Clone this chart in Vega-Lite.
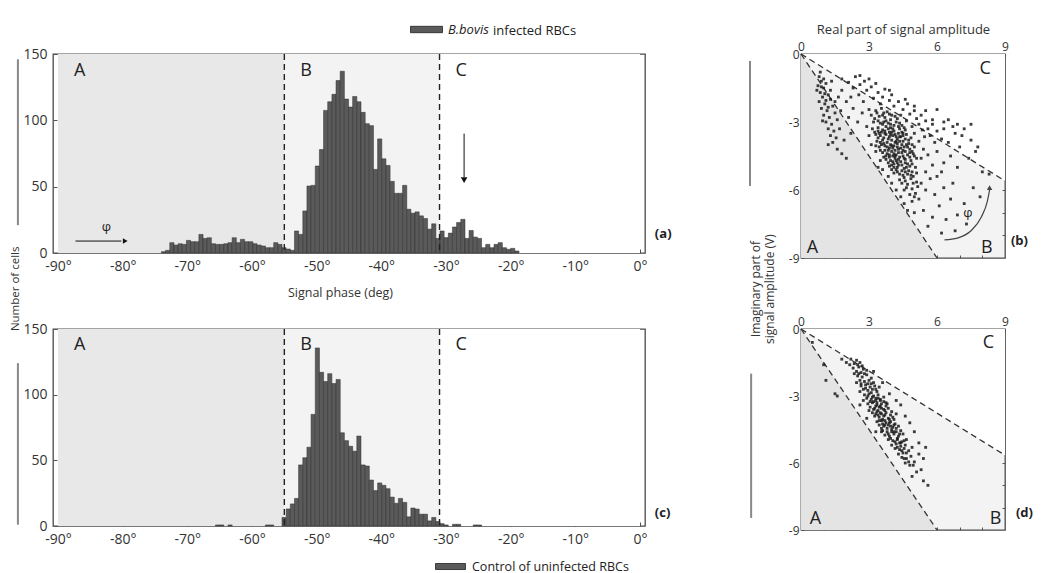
{
"$schema": "https://vega.github.io/schema/vega-lite/v6.json",
"background": "white",
"padding": {"left": 9, "top": 12, "right": 0, "bottom": 0},
"columns": 2,
"align": "each",
"bounds": "flush",
"spacing": {"row": 71, "column": 156},
"resolve": {"scale": {"color": "independent", "fill": "independent"}, "legend": {"color": "independent", "fill": "independent"}},
"config": {
  "font": "Open Sans",
  "view": {"stroke": "#4a4a4a", "strokeWidth": 1.3},
  "axis": {"domain": false, "grid": false, "labelColor": "#333", "labelFontSize": 13, "labelFlush": false, "labelOverlap": false, "tickColor": "#555", "tickSize": -4, "tickWidth": 1, "titleColor": "#333", "titleFontWeight": "normal", "titleFontSize": 13},
  "text": {"color": "#222", "font": "Open Sans"}
},
"datasets": {
  "regions": [{"region": "A", "start": -90, "end": -55}, {"region": "B", "start": -55, "end": -31}, {"region": "C", "start": -31, "end": 0}],
  "hist_a": [
    {"phase": -73.68, "count": 1, "s": "B.bovis"}, {"phase": -73.04, "count": 2, "s": "B.bovis"}, {"phase": -72.39, "count": 7.8, "s": "B.bovis"}, {"phase": -71.75, "count": 6, "s": "B.bovis"},
    {"phase": -71.11, "count": 7, "s": "B.bovis"}, {"phase": -70.47, "count": 6.5, "s": "B.bovis"}, {"phase": -69.82, "count": 9.5, "s": "B.bovis"}, {"phase": -69.18, "count": 8.5, "s": "B.bovis"},
    {"phase": -68.54, "count": 8.5, "s": "B.bovis"}, {"phase": -67.89, "count": 14, "s": "B.bovis"}, {"phase": -67.25, "count": 11, "s": "B.bovis"}, {"phase": -66.61, "count": 11.5, "s": "B.bovis"},
    {"phase": -65.97, "count": 7, "s": "B.bovis"}, {"phase": -65.32, "count": 6.5, "s": "B.bovis"}, {"phase": -64.68, "count": 6.5, "s": "B.bovis"}, {"phase": -64.04, "count": 7, "s": "B.bovis"},
    {"phase": -63.39, "count": 7.8, "s": "B.bovis"}, {"phase": -62.75, "count": 11.5, "s": "B.bovis"}, {"phase": -62.11, "count": 7.8, "s": "B.bovis"}, {"phase": -61.47, "count": 10.3, "s": "B.bovis"},
    {"phase": -60.82, "count": 8.5, "s": "B.bovis"}, {"phase": -60.18, "count": 8.5, "s": "B.bovis"}, {"phase": -59.54, "count": 7, "s": "B.bovis"}, {"phase": -58.89, "count": 6, "s": "B.bovis"},
    {"phase": -58.25, "count": 5.3, "s": "B.bovis"}, {"phase": -57.61, "count": 4, "s": "B.bovis"}, {"phase": -56.97, "count": 4, "s": "B.bovis"}, {"phase": -56.32, "count": 7.8, "s": "B.bovis"},
    {"phase": -55.68, "count": 6.5, "s": "B.bovis"}, {"phase": -55.04, "count": 4, "s": "B.bovis"}, {"phase": -54.39, "count": 3, "s": "B.bovis"}, {"phase": -53.75, "count": 2, "s": "B.bovis"},
    {"phase": -53.11, "count": 16.6, "s": "B.bovis"}, {"phase": -52.47, "count": 14, "s": "B.bovis"}, {"phase": -51.82, "count": 31.7, "s": "B.bovis"}, {"phase": -51.18, "count": 50.5, "s": "B.bovis"},
    {"phase": -50.54, "count": 51, "s": "B.bovis"}, {"phase": -49.89, "count": 65.6, "s": "B.bovis"}, {"phase": -49.25, "count": 78, "s": "B.bovis"}, {"phase": -48.61, "count": 107.5, "s": "B.bovis"},
    {"phase": -47.97, "count": 114, "s": "B.bovis"}, {"phase": -47.32, "count": 119.6, "s": "B.bovis"}, {"phase": -46.68, "count": 130, "s": "B.bovis"}, {"phase": -46.04, "count": 137, "s": "B.bovis"},
    {"phase": -45.39, "count": 116, "s": "B.bovis"}, {"phase": -44.75, "count": 110, "s": "B.bovis"}, {"phase": -44.11, "count": 118, "s": "B.bovis"}, {"phase": -43.47, "count": 114, "s": "B.bovis"},
    {"phase": -42.82, "count": 106, "s": "B.bovis"}, {"phase": -42.18, "count": 97.5, "s": "B.bovis"}, {"phase": -41.54, "count": 96, "s": "B.bovis"}, {"phase": -40.89, "count": 63, "s": "B.bovis"},
    {"phase": -40.25, "count": 86, "s": "B.bovis"}, {"phase": -39.61, "count": 71, "s": "B.bovis"}, {"phase": -38.97, "count": 66, "s": "B.bovis"}, {"phase": -38.32, "count": 54, "s": "B.bovis"},
    {"phase": -37.68, "count": 45, "s": "B.bovis"}, {"phase": -37.04, "count": 45, "s": "B.bovis"}, {"phase": -36.39, "count": 51, "s": "B.bovis"}, {"phase": -35.75, "count": 33, "s": "B.bovis"},
    {"phase": -35.11, "count": 30, "s": "B.bovis"}, {"phase": -34.47, "count": 31, "s": "B.bovis"}, {"phase": -33.82, "count": 28, "s": "B.bovis"}, {"phase": -33.18, "count": 26, "s": "B.bovis"},
    {"phase": -32.54, "count": 18, "s": "B.bovis"}, {"phase": -31.89, "count": 22, "s": "B.bovis"}, {"phase": -31.25, "count": 11, "s": "B.bovis"}, {"phase": -30.61, "count": 16.6, "s": "B.bovis"},
    {"phase": -29.97, "count": 11.6, "s": "B.bovis"}, {"phase": -29.32, "count": 15, "s": "B.bovis"}, {"phase": -28.68, "count": 19.6, "s": "B.bovis"}, {"phase": -28.04, "count": 23, "s": "B.bovis"},
    {"phase": -27.39, "count": 25.4, "s": "B.bovis"}, {"phase": -26.75, "count": 11, "s": "B.bovis"}, {"phase": -26.11, "count": 17, "s": "B.bovis"}, {"phase": -25.47, "count": 12, "s": "B.bovis"},
    {"phase": -24.82, "count": 11, "s": "B.bovis"}, {"phase": -24.18, "count": 4, "s": "B.bovis"}, {"phase": -23.54, "count": 6.5, "s": "B.bovis"}, {"phase": -22.89, "count": 4, "s": "B.bovis"},
    {"phase": -22.25, "count": 6.5, "s": "B.bovis"}, {"phase": -21.61, "count": 7.8, "s": "B.bovis"}, {"phase": -20.97, "count": 4, "s": "B.bovis"}, {"phase": -20.32, "count": 2.8, "s": "B.bovis"},
    {"phase": -19.68, "count": 3.5, "s": "B.bovis"}, {"phase": -19.04, "count": 1.5, "s": "B.bovis"}
  ],
  "hist_c": [
    {"phase": -65.32, "count": 0.8, "s": "Control of uninfected RBCs"}, {"phase": -64.68, "count": 0.8, "s": "Control of uninfected RBCs"}, {"phase": -63.39, "count": 0.8, "s": "Control of uninfected RBCs"},
    {"phase": -57.61, "count": 0.8, "s": "Control of uninfected RBCs"}, {"phase": -56.97, "count": 0.8, "s": "Control of uninfected RBCs"},
    {"phase": -55.04, "count": 6.5, "s": "Control of uninfected RBCs"}, {"phase": -54.39, "count": 13, "s": "Control of uninfected RBCs"}, {"phase": -53.75, "count": 16.8, "s": "Control of uninfected RBCs"},
    {"phase": -53.11, "count": 21, "s": "Control of uninfected RBCs"}, {"phase": -52.47, "count": 46.5, "s": "Control of uninfected RBCs"}, {"phase": -51.82, "count": 52, "s": "Control of uninfected RBCs"},
    {"phase": -51.18, "count": 60, "s": "Control of uninfected RBCs"}, {"phase": -50.54, "count": 85, "s": "Control of uninfected RBCs"}, {"phase": -49.89, "count": 135.6, "s": "Control of uninfected RBCs"},
    {"phase": -49.25, "count": 117, "s": "Control of uninfected RBCs"}, {"phase": -48.61, "count": 110, "s": "Control of uninfected RBCs"}, {"phase": -47.97, "count": 116, "s": "Control of uninfected RBCs"},
    {"phase": -47.32, "count": 108.5, "s": "Control of uninfected RBCs"}, {"phase": -46.68, "count": 111.6, "s": "Control of uninfected RBCs"}, {"phase": -46.04, "count": 71, "s": "Control of uninfected RBCs"},
    {"phase": -45.39, "count": 65, "s": "Control of uninfected RBCs"}, {"phase": -44.75, "count": 60.7, "s": "Control of uninfected RBCs"}, {"phase": -44.11, "count": 57, "s": "Control of uninfected RBCs"},
    {"phase": -43.47, "count": 68.5, "s": "Control of uninfected RBCs"}, {"phase": -42.82, "count": 46.5, "s": "Control of uninfected RBCs"}, {"phase": -42.18, "count": 45.7, "s": "Control of uninfected RBCs"},
    {"phase": -41.54, "count": 35, "s": "Control of uninfected RBCs"}, {"phase": -40.89, "count": 27, "s": "Control of uninfected RBCs"}, {"phase": -40.25, "count": 32.8, "s": "Control of uninfected RBCs"},
    {"phase": -39.61, "count": 31, "s": "Control of uninfected RBCs"}, {"phase": -38.97, "count": 28.4, "s": "Control of uninfected RBCs"}, {"phase": -38.32, "count": 22, "s": "Control of uninfected RBCs"},
    {"phase": -37.68, "count": 17.3, "s": "Control of uninfected RBCs"}, {"phase": -37.04, "count": 21, "s": "Control of uninfected RBCs"}, {"phase": -36.39, "count": 18, "s": "Control of uninfected RBCs"},
    {"phase": -35.75, "count": 7, "s": "Control of uninfected RBCs"}, {"phase": -35.11, "count": 13.7, "s": "Control of uninfected RBCs"}, {"phase": -34.47, "count": 12.9, "s": "Control of uninfected RBCs"},
    {"phase": -33.82, "count": 9, "s": "Control of uninfected RBCs"}, {"phase": -33.18, "count": 9, "s": "Control of uninfected RBCs"}, {"phase": -32.54, "count": 3.9, "s": "Control of uninfected RBCs"},
    {"phase": -31.89, "count": 6.5, "s": "Control of uninfected RBCs"}, {"phase": -31.25, "count": 3.4, "s": "Control of uninfected RBCs"}, {"phase": -30.61, "count": 1.8, "s": "Control of uninfected RBCs"},
    {"phase": -29.97, "count": 0.8, "s": "Control of uninfected RBCs"}, {"phase": -28.68, "count": 1.3, "s": "Control of uninfected RBCs"}, {"phase": -28.04, "count": 1.3, "s": "Control of uninfected RBCs"},
    {"phase": -25.47, "count": 0.8, "s": "Control of uninfected RBCs"}, {"phase": -24.82, "count": 0.8, "s": "Control of uninfected RBCs"}
  ],
  "pts_b": [
    {"x":3.0,"y":-2.45},{"x":3.3,"y":-2.5},{"x":3.55,"y":-2.4},{"x":3.8,"y":-2.55},{"x":3.1,"y":-2.7},{"x":3.45,"y":-2.75},{"x":3.7,"y":-2.8},{"x":4.0,"y":-2.7},{"x":4.25,"y":-2.85},{"x":3.2,"y":-3.0},
    {"x":3.5,"y":-3.05},{"x":3.75,"y":-2.95},{"x":3.95,"y":-3.1},{"x":4.2,"y":-3.0},{"x":4.45,"y":-3.15},{"x":3.15,"y":-3.3},{"x":3.4,"y":-3.25},{"x":3.6,"y":-3.35},{"x":3.85,"y":-3.3},{"x":4.1,"y":-3.4},
    {"x":4.35,"y":-3.3},{"x":4.6,"y":-3.35},{"x":3.3,"y":-3.55},{"x":3.5,"y":-3.6},{"x":3.7,"y":-3.5},{"x":3.9,"y":-3.65},{"x":4.15,"y":-3.55},{"x":4.4,"y":-3.65},{"x":4.65,"y":-3.55},{"x":4.85,"y":-3.7},
    {"x":3.35,"y":-3.85},{"x":3.6,"y":-3.8},{"x":3.8,"y":-3.9},{"x":4.0,"y":-3.8},{"x":4.25,"y":-3.95},{"x":4.5,"y":-3.85},{"x":4.75,"y":-3.95},{"x":3.45,"y":-4.1},{"x":3.7,"y":-4.05},{"x":3.9,"y":-4.15},
    {"x":4.1,"y":-4.05},{"x":4.3,"y":-4.2},{"x":4.55,"y":-4.1},{"x":4.8,"y":-4.2},{"x":5.0,"y":-4.1},{"x":3.6,"y":-4.35},{"x":3.8,"y":-4.4},{"x":4.0,"y":-4.3},{"x":4.2,"y":-4.45},{"x":4.45,"y":-4.35},
    {"x":4.7,"y":-4.45},{"x":4.95,"y":-4.4},{"x":3.75,"y":-4.65},{"x":3.95,"y":-4.7},{"x":4.15,"y":-4.6},{"x":4.4,"y":-4.75},{"x":4.6,"y":-4.65},{"x":4.85,"y":-4.7},{"x":5.1,"y":-4.6},{"x":3.9,"y":-4.95},
    {"x":4.1,"y":-5.0},{"x":4.3,"y":-4.9},{"x":4.55,"y":-5.05},{"x":4.8,"y":-4.95},{"x":5.05,"y":-5.0},{"x":4.1,"y":-5.25},{"x":4.35,"y":-5.3},{"x":4.6,"y":-5.2},{"x":4.85,"y":-5.35},{"x":5.1,"y":-5.25},
    {"x":4.35,"y":-5.55},{"x":4.6,"y":-5.6},{"x":4.85,"y":-5.5},{"x":5.1,"y":-5.65},{"x":4.65,"y":-5.9},{"x":4.9,"y":-5.95},{"x":5.15,"y":-5.85},{"x":4.8,"y":-6.2},{"x":5.05,"y":-6.15},
    {"x":3.65,"y":-3.7},{"x":3.85,"y":-3.75},{"x":4.05,"y":-3.6},{"x":4.25,"y":-3.75},{"x":4.45,"y":-4.0},{"x":3.95,"y":-4.0},{"x":4.15,"y":-4.25},{"x":4.35,"y":-4.55},{"x":4.5,"y":-4.5},{"x":3.85,"y":-4.25},
    {"x":4.05,"y":-4.5},{"x":4.25,"y":-4.8},{"x":4.0,"y":-3.45},{"x":3.75,"y":-3.2},{"x":4.3,"y":-3.5},{"x":4.6,"y":-4.3},{"x":4.7,"y":-4.85},{"x":4.45,"y":-5.15},{"x":3.55,"y":-3.45},{"x":3.95,"y":-2.9},
    {"x":4.6,"y":-3.75},{"x":4.9,"y":-4.3},{"x":4.2,"y":-5.1},{"x":3.7,"y":-4.25},{"x":4.1,"y":-4.85},{"x":4.75,"y":-5.15},{"x":3.6,"y":-3.1},{"x":4.35,"y":-3.05},{"x":3.25,"y":-2.85},{"x":4.55,"y":-5.45},
    {"x":3.5,"y":-3.9},{"x":3.75,"y":-4.5},{"x":4.2,"y":-3.85},{"x":4.4,"y":-4.15},{"x":3.9,"y":-3.45},{"x":4.65,"y":-4.0},{"x":3.4,"y":-3.4},{"x":4.05,"y":-4.75},{"x":3.65,"y":-2.6},{"x":4.5,"y":-3.5},
    {"x":3.3,"y":-4.05},{"x":4.9,"y":-5.2},
    {"x":3.35,"y":-2.6},{"x":3.6,"y":-2.7},{"x":3.9,"y":-2.65},{"x":4.15,"y":-2.75},{"x":3.4,"y":-2.95},{"x":3.65,"y":-3.0},{"x":3.85,"y":-3.05},{"x":4.1,"y":-3.15},{"x":4.3,"y":-3.2},{"x":4.55,"y":-3.25},
    {"x":3.25,"y":-3.45},{"x":3.45,"y":-3.5},{"x":3.7,"y":-3.4},{"x":3.95,"y":-3.55},{"x":4.2,"y":-3.65},{"x":4.5,"y":-3.6},{"x":4.75,"y":-3.8},{"x":3.4,"y":-3.7},{"x":3.55,"y":-4.0},{"x":3.8,"y":-4.1},
    {"x":4.05,"y":-4.15},{"x":4.25,"y":-4.1},{"x":4.5,"y":-4.25},{"x":4.7,"y":-4.1},{"x":4.9,"y":-4.0},{"x":3.65,"y":-4.55},{"x":3.9,"y":-4.55},{"x":4.1,"y":-4.4},{"x":4.3,"y":-4.65},{"x":4.55,"y":-4.6},
    {"x":4.8,"y":-4.55},{"x":5.0,"y":-4.5},{"x":3.85,"y":-4.8},{"x":4.0,"y":-4.9},{"x":4.2,"y":-4.7},{"x":4.45,"y":-4.9},{"x":4.65,"y":-5.0},{"x":4.9,"y":-4.85},{"x":4.0,"y":-5.1},{"x":4.25,"y":-5.2},
    {"x":4.5,"y":-5.35},{"x":4.7,"y":-5.3},{"x":4.95,"y":-5.4},{"x":4.45,"y":-5.7},{"x":4.7,"y":-5.75},{"x":4.95,"y":-5.7},{"x":4.55,"y":-6.0},{"x":5.0,"y":-6.3},{"x":3.95,"y":-3.25},{"x":4.15,"y":-3.9},
    {"x":4.35,"y":-3.85},{"x":3.65,"y":-3.95},{"x":4.3,"y":-4.35},{"x":3.9,"y":-4.45},{"x":4.6,"y":-4.8},{"x":4.15,"y":-4.5},{"x":3.75,"y":-3.55},{"x":4.45,"y":-3.45},{"x":4.8,"y":-4.35},{"x":4.25,"y":-5.0},
    {"x":3.5,"y":-4.25},{"x":4.0,"y":-4.05},{"x":4.35,"y":-3.65},{"x":4.05,"y":-3.3},
    {"x":1.8,"y":-1.1},{"x":2.1,"y":-1.25},{"x":2.4,"y":-1.0},{"x":2.3,"y":-1.5},{"x":2.6,"y":-1.35},{"x":2.8,"y":-1.2},{"x":2.9,"y":-1.6},{"x":2.55,"y":-1.8},{"x":2.75,"y":-2.1},{"x":3.1,"y":-1.45},
    {"x":3.3,"y":-1.3},{"x":3.4,"y":-1.7},{"x":3.2,"y":-1.95},{"x":3.6,"y":-1.9},{"x":3.7,"y":-1.55},{"x":3.9,"y":-2.05},{"x":3.5,"y":-2.2},{"x":4.1,"y":-2.3},{"x":4.3,"y":-2.1},{"x":4.0,"y":-1.8},
    {"x":4.5,"y":-2.45},{"x":4.7,"y":-2.2},{"x":4.4,"y":-2.7},{"x":4.8,"y":-2.65},{"x":5.0,"y":-2.5},{"x":4.65,"y":-2.95},{"x":5.1,"y":-2.85},{"x":5.3,"y":-2.7},{"x":4.9,"y":-3.2},{"x":5.2,"y":-3.1},
    {"x":5.5,"y":-2.95},{"x":5.35,"y":-3.35},{"x":5.0,"y":-3.5},{"x":5.6,"y":-3.3},{"x":5.8,"y":-3.1},{"x":5.45,"y":-3.65},{"x":5.2,"y":-3.85},{"x":5.7,"y":-3.6},{"x":6.0,"y":-3.4},{"x":6.3,"y":-3.0},
    {"x":5.9,"y":-3.9},{"x":5.4,"y":-4.2},{"x":6.2,"y":-3.75},{"x":5.6,"y":-4.45},{"x":6.5,"y":-3.9},{"x":5.3,"y":-4.6},{"x":6.0,"y":-4.3},{"x":6.8,"y":-3.5},{"x":7.2,"y":-3.3},{"x":6.6,"y":-4.5},
    {"x":7.0,"y":-4.1},{"x":7.4,"y":-4.6},{"x":7.7,"y":-4.3},{"x":5.8,"y":-4.9},{"x":6.3,"y":-4.8},{"x":6.9,"y":-5.0},{"x":8.0,"y":-5.2},{"x":8.3,"y":-5.3},{"x":7.5,"y":-3.8},{"x":6.7,"y":-3.2},
    {"x":5.0,"y":-2.3},{"x":5.5,"y":-2.5},{"x":6.0,"y":-2.45},{"x":6.5,"y":-2.9},{"x":6.9,"y":-3.1},{"x":7.5,"y":-3.1},{"x":4.6,"y":-2.0},{"x":3.9,"y":-1.6},{"x":3.0,"y":-1.1},{"x":2.6,"y":-0.95},
    {"x":5.8,"y":-2.9},{"x":6.3,"y":-3.3},{"x":7.1,"y":-3.6},{"x":7.8,"y":-4.1},
    {"x":3.0,"y":-3.6},{"x":2.9,"y":-3.2},{"x":3.1,"y":-4.0},{"x":3.3,"y":-4.3},{"x":3.5,"y":-4.7},{"x":3.6,"y":-5.1},{"x":3.85,"y":-5.4},{"x":4.0,"y":-5.7},{"x":4.2,"y":-6.0},{"x":4.4,"y":-6.3},
    {"x":4.55,"y":-6.6},{"x":4.9,"y":-6.5},{"x":5.2,"y":-6.4},{"x":5.5,"y":-6.0},{"x":5.7,"y":-5.5},{"x":5.9,"y":-6.2},{"x":5.4,"y":-6.9},{"x":5.0,"y":-7.0},{"x":5.8,"y":-7.2},{"x":6.1,"y":-6.7},
    {"x":6.4,"y":-7.3},{"x":6.6,"y":-6.4},{"x":6.9,"y":-7.1},{"x":7.2,"y":-6.6},{"x":6.3,"y":-5.9},{"x":6.0,"y":-5.4},{"x":6.7,"y":-5.7},{"x":7.6,"y":-5.9},{"x":7.9,"y":-6.3},{"x":5.6,"y":-7.6},
    {"x":6.2,"y":-7.9},{"x":6.8,"y":-7.8},{"x":7.3,"y":-7.5},{"x":5.3,"y":-5.7},{"x":5.5,"y":-5.2},{"x":6.2,"y":-5.2},{"x":4.7,"y":-6.9},{"x":3.4,"y":-5.0},{"x":2.7,"y":-2.6},{"x":2.5,"y":-3.0},
    {"x":0.8,"y":-1.0},{"x":0.9,"y":-1.2},{"x":0.75,"y":-1.4},{"x":1.0,"y":-1.5},{"x":0.85,"y":-1.7},{"x":1.1,"y":-1.3},{"x":0.95,"y":-1.9},{"x":1.2,"y":-1.8},{"x":0.8,"y":-2.1},{"x":1.05,"y":-2.2},
    {"x":1.3,"y":-2.0},{"x":0.9,"y":-2.4},{"x":1.15,"y":-2.5},{"x":1.4,"y":-2.3},{"x":1.0,"y":-2.7},{"x":1.25,"y":-2.8},{"x":1.5,"y":-2.6},{"x":1.1,"y":-3.0},{"x":1.35,"y":-3.1},{"x":1.6,"y":-2.9},
    {"x":1.2,"y":-3.3},{"x":1.45,"y":-3.4},{"x":1.3,"y":-3.6},{"x":1.55,"y":-3.7},{"x":1.4,"y":-3.9},{"x":1.7,"y":-3.3},{"x":1.0,"y":-1.1},{"x":0.7,"y":-1.6},{"x":1.3,"y":-1.6},{"x":1.5,"y":-2.1},
    {"x":0.95,"y":-2.95},{"x":1.75,"y":-2.5},{"x":1.6,"y":-4.2},{"x":1.8,"y":-4.4},{"x":2.0,"y":-4.6},{"x":1.9,"y":-3.8},{"x":2.2,"y":-3.5},{"x":1.65,"y":-1.9},{"x":0.85,"y":-0.8},{"x":1.2,"y":-4.0},
    {"x":1.35,"y":-1.2},{"x":2.1,"y":-2.8},{"x":0.9,"y":-1.45},{"x":1.05,"y":-1.75},{"x":1.2,"y":-2.35},{"x":1.1,"y":-2.05},{"x":1.8,"y":-1.6},{"x":2.0,"y":-2.1},{"x":2.3,"y":-2.4},{"x":2.2,"y":-1.9}
  ],
  "pts_d": [
    {"x":2.2,"y":-1.35},{"x":2.45,"y":-1.4},{"x":2.35,"y":-1.55},{"x":2.6,"y":-1.5},{"x":2.15,"y":-1.6},
    {"x":2.3,"y":-1.75},{"x":2.55,"y":-1.7},{"x":2.75,"y":-1.8},{"x":2.45,"y":-1.9},{"x":2.65,"y":-1.95},{"x":2.9,"y":-1.85},{"x":2.35,"y":-2.0},
    {"x":2.5,"y":-2.1},{"x":2.7,"y":-2.15},{"x":2.9,"y":-2.05},{"x":3.1,"y":-2.2},{"x":2.6,"y":-2.3},{"x":2.8,"y":-2.35},{"x":3.0,"y":-2.3},{"x":2.45,"y":-2.4},{"x":3.2,"y":-2.4},
    {"x":2.65,"y":-2.55},{"x":2.85,"y":-2.5},{"x":3.05,"y":-2.6},{"x":3.25,"y":-2.55},{"x":2.75,"y":-2.7},{"x":2.95,"y":-2.75},{"x":3.15,"y":-2.7},{"x":3.35,"y":-2.8},{"x":2.6,"y":-2.8},{"x":3.45,"y":-2.6},
    {"x":2.8,"y":-2.95},{"x":3.0,"y":-2.9},{"x":3.2,"y":-3.0},{"x":3.4,"y":-2.95},{"x":2.9,"y":-3.1},{"x":3.1,"y":-3.15},{"x":3.3,"y":-3.1},{"x":3.5,"y":-3.2},{"x":3.65,"y":-3.05},{"x":2.75,"y":-3.2},{"x":3.2,"y":-3.25},
    {"x":2.95,"y":-3.35},{"x":3.15,"y":-3.3},{"x":3.35,"y":-3.4},{"x":3.55,"y":-3.35},{"x":3.75,"y":-3.45},{"x":3.05,"y":-3.5},{"x":3.25,"y":-3.55},{"x":3.45,"y":-3.5},{"x":3.65,"y":-3.6},{"x":3.85,"y":-3.55},{"x":3.4,"y":-3.65},{"x":3.0,"y":-3.65},
    {"x":3.15,"y":-3.75},{"x":3.35,"y":-3.7},{"x":3.55,"y":-3.8},{"x":3.75,"y":-3.75},{"x":3.95,"y":-3.85},{"x":3.25,"y":-3.9},{"x":3.45,"y":-3.95},{"x":3.65,"y":-3.9},{"x":3.85,"y":-4.0},{"x":4.05,"y":-3.95},{"x":3.6,"y":-4.05},{"x":4.2,"y":-3.8},
    {"x":3.35,"y":-4.15},{"x":3.55,"y":-4.1},{"x":3.75,"y":-4.2},{"x":3.95,"y":-4.15},{"x":4.15,"y":-4.25},{"x":3.45,"y":-4.3},{"x":3.65,"y":-4.35},{"x":3.85,"y":-4.3},{"x":4.05,"y":-4.4},{"x":4.3,"y":-4.35},{"x":3.8,"y":-4.45},
    {"x":3.6,"y":-4.55},{"x":3.8,"y":-4.6},{"x":4.0,"y":-4.5},{"x":4.2,"y":-4.6},{"x":4.4,"y":-4.55},{"x":3.7,"y":-4.75},{"x":3.9,"y":-4.8},{"x":4.1,"y":-4.7},{"x":4.3,"y":-4.8},{"x":4.5,"y":-4.7},
    {"x":3.85,"y":-4.95},{"x":4.05,"y":-5.0},{"x":4.25,"y":-4.9},{"x":4.45,"y":-5.05},{"x":4.65,"y":-4.95},{"x":4.0,"y":-5.2},{"x":4.2,"y":-5.15},{"x":4.4,"y":-5.25},{"x":4.6,"y":-5.2},
    {"x":4.15,"y":-5.35},{"x":4.35,"y":-5.4},{"x":4.55,"y":-5.35},{"x":4.75,"y":-5.45},{"x":4.3,"y":-5.6},{"x":4.5,"y":-5.55},{"x":4.9,"y":-5.3},
    {"x":4.45,"y":-5.75},{"x":4.65,"y":-5.8},{"x":4.85,"y":-5.7},{"x":4.6,"y":-6.0},{"x":4.8,"y":-6.1},{"x":5.0,"y":-5.95},{"x":5.2,"y":-5.6},
    {"x":5.1,"y":-6.4},{"x":5.3,"y":-6.3},{"x":4.9,"y":-6.6},{"x":5.4,"y":-6.8},{"x":5.6,"y":-7.0},{"x":5.2,"y":-5.1},{"x":5.0,"y":-4.6},{"x":4.8,"y":-4.2},{"x":4.6,"y":-3.9},{"x":4.4,"y":-3.4},
    {"x":4.2,"y":-3.2},{"x":3.9,"y":-2.9},{"x":3.6,"y":-2.4},{"x":1.0,"y":-1.6},{"x":1.1,"y":-2.3},{"x":1.5,"y":-2.9},{"x":1.6,"y":-3.0},{"x":0.5,"y":-0.6},{"x":1.8,"y":-1.35},{"x":2.0,"y":-1.5},
    {"x":5.4,"y":-5.8},{"x":5.5,"y":-5.3},{"x":3.2,"y":-1.9},{"x":2.6,"y":-3.4},{"x":2.9,"y":-4.0},{"x":3.3,"y":-4.6},
    {"x":3.3,"y":-3.2},{"x":3.5,"y":-3.45},{"x":3.7,"y":-3.65},{"x":3.9,"y":-4.05},{"x":4.1,"y":-4.3},{"x":3.6,"y":-4.25},{"x":4.0,"y":-4.6},{"x":4.25,"y":-4.95},{"x":3.4,"y":-3.85},{"x":3.8,"y":-3.35},
    {"x":4.1,"y":-4.05},{"x":3.55,"y":-4.45},{"x":4.35,"y":-5.1},{"x":3.95,"y":-4.35},{"x":3.7,"y":-4.1},{"x":3.5,"y":-3.15},
    {"x":2.5,"y":-1.6},{"x":2.7,"y":-1.65},{"x":2.55,"y":-2.0},{"x":2.8,"y":-2.0},{"x":2.65,"y":-2.45},{"x":2.95,"y":-2.45},{"x":3.1,"y":-2.45},{"x":2.85,"y":-2.65},{"x":3.1,"y":-2.85},{"x":3.3,"y":-2.7},
    {"x":2.95,"y":-3.0},{"x":3.15,"y":-3.05},{"x":3.4,"y":-3.1},{"x":3.05,"y":-3.25},{"x":3.3,"y":-3.45},{"x":3.55,"y":-3.55},{"x":3.2,"y":-3.6},{"x":3.5,"y":-3.75},{"x":3.7,"y":-3.85},{"x":3.3,"y":-3.8},
    {"x":3.45,"y":-4.1},{"x":3.7,"y":-4.3},{"x":3.9,"y":-4.2},{"x":4.2,"y":-4.45},{"x":3.55,"y":-4.6},{"x":3.85,"y":-4.7},{"x":4.1,"y":-4.6},{"x":4.35,"y":-4.7},{"x":3.95,"y":-4.9},{"x":4.15,"y":-5.05},
    {"x":4.4,"y":-5.1},{"x":4.55,"y":-5.0},{"x":4.25,"y":-5.3},{"x":4.45,"y":-5.45},{"x":4.65,"y":-5.55},{"x":4.55,"y":-5.8},{"x":4.75,"y":-5.95},{"x":4.95,"y":-6.1},{"x":3.75,"y":-3.3},{"x":4.0,"y":-3.7},
    {"x":3.35,"y":-3.3},{"x":3.65,"y":-3.25}
  ]
},
"concat": [
  {
    "width": 592, "height": 199,
    "resolve": {"axis": {"x": "independent", "y": "independent"}},
    "layer": [
      {"data": {"name": "regions"}, "mark": {"type": "rect"},
       "encoding": {
         "x": {"field": "start", "type": "quantitative", "scale": {"domain": [-90, 0], "nice": false, "zero": false}, "axis": null},
         "x2": {"field": "end"},
         "fill": {"field": "region", "type": "nominal", "scale": {"domain": ["A", "B", "C"], "range": ["#e8e8e8", "#f3f3f3", "#ffffff"]}, "legend": null}
       }},
      {"data": {"name": "hist_a"}, "mark": {"type": "bar", "width": 4.2, "stroke": "#2e2e2e", "strokeWidth": 0.5},
       "encoding": {
         "x": {"field": "phase", "type": "quantitative", "scale": {"domain": [-90, 0], "nice": false, "zero": false},
               "axis": {"values": [-90, -80, -70, -60, -50, -40, -30, -20, -10, 0], "labelExpr": "datum.value + '°'", "labelFontSize": 14, "labelPadding": 10, "title": "Signal phase (deg)", "titleX": 287, "titlePadding": 13, "titleFontSize": 12.5}},
         "y": {"field": "count", "type": "quantitative", "scale": {"domain": [0, 150], "nice": false},
               "axis": {"values": [0, 50, 100, 150], "labelExpr": "'' + datum.value", "labelFontSize": 14, "labelPadding": 10, "title": null}},
         "color": {"field": "s", "type": "nominal", "scale": {"domain": ["B.bovis"], "range": ["#5a5a5a"]},
                   "legend": {"orient": "none", "legendX": 357, "legendY": -41, "title": "infected RBCs", "titleOrient": "right", "titleFontSize": 13, "titleFontWeight": "normal", "titleColor": "#222", "titlePadding": 4, "titleBaseline": "top", "labelFontStyle": "italic", "labelFontSize": 13, "labelColor": "#222", "symbolType": "M-1,-0.2H1V0.2H-1Z", "symbolSize": 1024, "symbolStrokeColor": "#222", "symbolStrokeWidth": 0.8, "labelOffset": 5}}
       }},
      {"data": {"values": [{"phase": -55}, {"phase": -31}]}, "mark": {"type": "rule", "strokeDash": [6, 4], "color": "#222", "strokeWidth": 1.4},
       "encoding": {"x": {"field": "phase", "type": "quantitative", "axis": {"orient": "top", "labels": false, "title": null, "values": [-80, -70, -60, -50, -40, -30, -20, -10]}}}},
      {"data": {"name": "regions"}, "mark": {"type": "text", "align": "left", "dx": 16, "fontSize": 18, "baseline": "middle"},
       "encoding": {"x": {"field": "start", "type": "quantitative", "axis": null}, "y": {"datum": 137, "type": "quantitative", "axis": null}, "text": {"field": "region"}}},
      {"data": {"values": [{"x": -87.3, "y": 9, "x2": -80.2, "y2": 9}, {"x": -27.2, "y": 90, "x2": -27.2, "y2": 57}]}, "mark": {"type": "rule", "color": "#111", "strokeWidth": 1},
       "encoding": {"x": {"field": "x", "type": "quantitative", "axis": null}, "y": {"field": "y", "type": "quantitative", "axis": null}, "x2": {"field": "x2"}, "y2": {"field": "y2"}}},
      {"data": {"values": [{"x": -79.6, "y": 9}]}, "mark": {"type": "point", "shape": "triangle-right", "filled": true, "size": 30, "color": "#111", "opacity": 1},
       "encoding": {"x": {"field": "x", "type": "quantitative", "axis": null}, "y": {"field": "y", "type": "quantitative", "axis": null}}},
      {"data": {"values": [{"x": -27.2, "y": 55}]}, "mark": {"type": "point", "shape": "triangle-down", "filled": true, "size": 45, "color": "#111", "opacity": 1},
       "encoding": {"x": {"field": "x", "type": "quantitative", "axis": null}, "y": {"field": "y", "type": "quantitative", "axis": null}}},
      {"data": {"values": [{"x": -82.5, "y": 19.5, "t": "φ"}]}, "mark": {"type": "text", "fontSize": 13},
       "encoding": {"x": {"field": "x", "type": "quantitative", "axis": null}, "y": {"field": "y", "type": "quantitative", "axis": null}, "text": {"field": "t"}}},
      {"data": {"values": [{"x": 2.3, "y": 14.3, "t": "(a)"}]}, "mark": {"type": "text", "fontSize": 13, "fontWeight": "bold", "align": "left"},
       "encoding": {"x": {"field": "x", "type": "quantitative", "axis": null}, "y": {"field": "y", "type": "quantitative", "axis": null}, "text": {"field": "t"}}},
      {"data": {"values": [{"x": -96.5, "y": -27, "t": "Number of cells"}]}, "mark": {"type": "text", "fontSize": 11.5, "angle": 270, "color": "#333"},
       "encoding": {"x": {"field": "x", "type": "quantitative", "axis": null}, "y": {"field": "y", "type": "quantitative", "axis": null}, "text": {"field": "t"}}},
      {"data": {"values": [{"x": -96.2, "y": 146, "y2": 21}]}, "mark": {"type": "rule", "color": "#888", "strokeWidth": 2},
       "encoding": {"x": {"field": "x", "type": "quantitative", "axis": null}, "y": {"field": "y", "type": "quantitative", "axis": null}, "y2": {"field": "y2"}}}
    ]
  },
  {
    "width": 204, "height": 204,
    "view": {"fill": "#f3f3f3"},
    "resolve": {"axis": {"x": "independent", "y": "independent"}},
    "layer": [
      {"data": {"values": [{"r": "A", "x": 0, "y": 0, "y2": -9}, {"r": "A", "x": 6, "y": -9, "y2": -9}, {"r": "C", "x": 0, "y": 0, "y2": 0}, {"r": "C", "x": 9, "y": 0, "y2": -5.6}]},
       "mark": {"type": "area"},
       "encoding": {
         "x": {"field": "x", "type": "quantitative", "scale": {"domain": [0, 9], "nice": false, "zero": false},
               "axis": {"orient": "top", "values": [0, 1, 2, 3, 4, 5, 6, 7, 8, 9], "labelExpr": "datum.value % 3 == 0 ? '' + datum.value : ''", "tickSize": -3, "labelPadding": 4, "labelFontSize": 12, "title": "Real part of signal amplitude", "titlePadding": 4, "titleFontSize": 13}},
         "y": {"field": "y", "type": "quantitative", "stack": null, "scale": {"domain": [-9, 0], "nice": false, "zero": false},
               "axis": {"values": [0, -1, -2, -3, -4, -5, -6, -7, -8, -9], "labelExpr": "datum.value % 3 == 0 ? '' + datum.value : ''", "tickSize": -3, "labelPadding": 5, "labelFontSize": 12, "title": null}},
         "y2": {"field": "y2"},
         "fill": {"field": "r", "type": "nominal", "scale": {"domain": ["A", "C"], "range": ["#e4e4e4", "#ffffff"]}, "legend": null}
       }},
      {"data": {"values": [{"x": 0, "y": 0, "x2": 6, "y2": -9}, {"x": 0, "y": 0, "x2": 9, "y2": -5.6}]},
       "mark": {"type": "rule", "strokeDash": [6, 4], "color": "#333", "strokeWidth": 1.3},
       "encoding": {
         "x": {"field": "x", "type": "quantitative", "axis": {"orient": "bottom", "labels": false, "title": null, "tickSize": -3, "values": [1, 2, 3, 4, 5, 6, 7, 8]}},
         "y": {"field": "y", "type": "quantitative", "axis": {"orient": "right", "labels": false, "title": null, "tickSize": -3, "values": [-1, -2, -3, -4, -5, -6, -7, -8]}},
         "x2": {"field": "x2"}, "y2": {"field": "y2"}
       }},
      {"data": {"name": "pts_b"}, "mark": {"type": "point", "shape": "square", "filled": true, "size": 8, "color": "#1a1a1a", "opacity": 0.85},
       "encoding": {"x": {"field": "x", "type": "quantitative", "axis": null}, "y": {"field": "y", "type": "quantitative", "axis": null}}},
      {"data": {"values": [{"t": "A", "x": 0.51, "y": -8.54}, {"t": "B", "x": 8.2, "y": -8.54}, {"t": "C", "x": 8.12, "y": -0.68}]}, "mark": {"type": "text", "fontSize": 18},
       "encoding": {"x": {"field": "x", "type": "quantitative", "axis": null}, "y": {"field": "y", "type": "quantitative", "axis": null}, "text": {"field": "t"}}},
      {"data": {"values": [{"x": 6.33, "y": -8.2, "o": 1}, {"x": 6.9, "y": -8.12, "o": 2}, {"x": 7.5, "y": -7.8, "o": 3}, {"x": 7.95, "y": -7.2, "o": 4}, {"x": 8.22, "y": -6.5, "o": 5}, {"x": 8.32, "y": -6.0, "o": 6}]},
       "mark": {"type": "line", "color": "#444", "strokeWidth": 1.2, "interpolate": "monotone"},
       "encoding": {"x": {"field": "x", "type": "quantitative", "axis": null}, "y": {"field": "y", "type": "quantitative", "axis": null}, "order": {"field": "o", "type": "quantitative"}}},
      {"data": {"values": [{"x": 8.32, "y": -5.9}]}, "mark": {"type": "point", "shape": "triangle-up", "filled": true, "size": 30, "color": "#444", "opacity": 1},
       "encoding": {"x": {"field": "x", "type": "quantitative", "axis": null}, "y": {"field": "y", "type": "quantitative", "axis": null}}},
      {"data": {"values": [{"x": 7.36, "y": -7.0, "t": "φ"}]}, "mark": {"type": "text", "fontSize": 13},
       "encoding": {"x": {"field": "x", "type": "quantitative", "axis": null}, "y": {"field": "y", "type": "quantitative", "axis": null}, "text": {"field": "t"}}},
      {"data": {"values": [{"x": 9.26, "y": -8.25, "t": "(b)"}]}, "mark": {"type": "text", "fontSize": 13, "fontWeight": "bold", "align": "left"},
       "encoding": {"x": {"field": "x", "type": "quantitative", "axis": null}, "y": {"field": "y", "type": "quantitative", "axis": null}, "text": {"field": "t"}}},
      {"data": {"values": [{"x": -2.0, "y": -10.37, "t": "Imaginary part of\nsignal amplitude (V)"}]}, "mark": {"type": "text", "fontSize": 12, "angle": 270, "lineBreak": "\n", "color": "#333", "lineHeight": 14},
       "encoding": {"x": {"field": "x", "type": "quantitative", "axis": null}, "y": {"field": "y", "type": "quantitative", "axis": null}, "text": {"field": "t"}}},
      {"data": {"values": [{"x": -2.25, "y": -0.31, "y2": -5.82}]}, "mark": {"type": "rule", "color": "#888", "strokeWidth": 2},
       "encoding": {"x": {"field": "x", "type": "quantitative", "axis": null}, "y": {"field": "y", "type": "quantitative", "axis": null}, "y2": {"field": "y2"}}}
    ]
  },
  {
    "width": 592, "height": 197,
    "resolve": {"axis": {"x": "independent", "y": "independent"}},
    "layer": [
      {"data": {"name": "regions"}, "mark": {"type": "rect"},
       "encoding": {
         "x": {"field": "start", "type": "quantitative", "scale": {"domain": [-90, 0], "nice": false, "zero": false}, "axis": null},
         "x2": {"field": "end"},
         "fill": {"field": "region", "type": "nominal", "scale": {"domain": ["A", "B", "C"], "range": ["#e8e8e8", "#f3f3f3", "#ffffff"]}, "legend": null}
       }},
      {"data": {"name": "hist_c"}, "mark": {"type": "bar", "width": 4.2, "stroke": "#2e2e2e", "strokeWidth": 0.5},
       "encoding": {
         "x": {"field": "phase", "type": "quantitative", "scale": {"domain": [-90, 0], "nice": false, "zero": false},
               "axis": {"values": [-90, -80, -70, -60, -50, -40, -30, -20, -10, 0], "labelExpr": "datum.value + '°'", "labelFontSize": 14, "labelPadding": 10, "title": null}},
         "y": {"field": "count", "type": "quantitative", "scale": {"domain": [0, 150], "nice": false},
               "axis": {"values": [0, 50, 100, 150], "labelExpr": "'' + datum.value", "labelFontSize": 14, "labelPadding": 10, "title": null}},
         "color": {"field": "s", "type": "nominal", "scale": {"domain": ["Control of uninfected RBCs"], "range": ["#5a5a5a"]},
                   "legend": {"orient": "none", "legendX": 382, "legendY": 222, "title": null, "labelFontSize": 12.5, "labelColor": "#222", "symbolType": "M-1,-0.2H1V0.2H-1Z", "symbolSize": 900, "symbolStrokeColor": "#222", "symbolStrokeWidth": 0.8, "labelOffset": 6}}
       }},
      {"data": {"values": [{"phase": -55}, {"phase": -31}]}, "mark": {"type": "rule", "strokeDash": [6, 4], "color": "#222", "strokeWidth": 1.4},
       "encoding": {"x": {"field": "phase", "type": "quantitative", "axis": {"orient": "top", "labels": false, "title": null, "values": [-80, -70, -60, -50, -40, -30, -20, -10]}}}},
      {"data": {"name": "regions"}, "mark": {"type": "text", "align": "left", "dx": 16, "fontSize": 18, "baseline": "middle"},
       "encoding": {"x": {"field": "start", "type": "quantitative", "axis": null}, "y": {"datum": 138, "type": "quantitative", "axis": null}, "text": {"field": "region"}}},
      {"data": {"values": [{"x": 2.3, "y": 9.9, "t": "(c)"}]}, "mark": {"type": "text", "fontSize": 13, "fontWeight": "bold", "align": "left"},
       "encoding": {"x": {"field": "x", "type": "quantitative", "axis": null}, "y": {"field": "y", "type": "quantitative", "axis": null}, "text": {"field": "t"}}},
      {"data": {"values": [{"x": -96.2, "y": 124, "y2": 1}]}, "mark": {"type": "rule", "color": "#888", "strokeWidth": 2},
       "encoding": {"x": {"field": "x", "type": "quantitative", "axis": null}, "y": {"field": "y", "type": "quantitative", "axis": null}, "y2": {"field": "y2"}}}
    ]
  },
  {
    "width": 204, "height": 201,
    "view": {"fill": "#f3f3f3"},
    "resolve": {"axis": {"x": "independent", "y": "independent"}},
    "layer": [
      {"data": {"values": [{"r": "A", "x": 0, "y": 0, "y2": -9}, {"r": "A", "x": 6, "y": -9, "y2": -9}, {"r": "C", "x": 0, "y": 0, "y2": 0}, {"r": "C", "x": 9, "y": 0, "y2": -5.65}]},
       "mark": {"type": "area"},
       "encoding": {
         "x": {"field": "x", "type": "quantitative", "scale": {"domain": [0, 9], "nice": false, "zero": false},
               "axis": {"orient": "top", "values": [0, 1, 2, 3, 4, 5, 6, 7, 8, 9], "labelExpr": "datum.value % 3 == 0 ? '' + datum.value : ''", "tickSize": -3, "labelPadding": 4, "labelFontSize": 12, "title": null}},
         "y": {"field": "y", "type": "quantitative", "stack": null, "scale": {"domain": [-9, 0], "nice": false, "zero": false},
               "axis": {"values": [0, -1, -2, -3, -4, -5, -6, -7, -8, -9], "labelExpr": "datum.value % 3 == 0 ? '' + datum.value : ''", "tickSize": -3, "labelPadding": 5, "labelFontSize": 12, "title": null}},
         "y2": {"field": "y2"},
         "fill": {"field": "r", "type": "nominal", "scale": {"domain": ["A", "C"], "range": ["#e4e4e4", "#ffffff"]}, "legend": null}
       }},
      {"data": {"values": [{"x": 0, "y": 0, "x2": 6, "y2": -9}, {"x": 0, "y": 0, "x2": 9, "y2": -5.65}]},
       "mark": {"type": "rule", "strokeDash": [6, 4], "color": "#333", "strokeWidth": 1.3},
       "encoding": {
         "x": {"field": "x", "type": "quantitative", "axis": {"orient": "bottom", "labels": false, "title": null, "tickSize": -3, "values": [1, 2, 3, 4, 5, 6, 7, 8]}},
         "y": {"field": "y", "type": "quantitative", "axis": {"orient": "right", "labels": false, "title": null, "tickSize": -3, "values": [-1, -2, -3, -4, -5, -6, -7, -8]}},
         "x2": {"field": "x2"}, "y2": {"field": "y2"}
       }},
      {"data": {"name": "pts_d"}, "mark": {"type": "point", "shape": "square", "filled": true, "size": 8, "color": "#1a1a1a", "opacity": 0.85},
       "encoding": {"x": {"field": "x", "type": "quantitative", "axis": null}, "y": {"field": "y", "type": "quantitative", "axis": null}}},
      {"data": {"values": [{"t": "A", "x": 0.64, "y": -8.52}, {"t": "B", "x": 8.58, "y": -8.52}, {"t": "C", "x": 8.27, "y": -0.61}]}, "mark": {"type": "text", "fontSize": 18},
       "encoding": {"x": {"field": "x", "type": "quantitative", "axis": null}, "y": {"field": "y", "type": "quantitative", "axis": null}, "text": {"field": "t"}}},
      {"data": {"values": [{"x": 9.48, "y": -8.24, "t": "(d)"}]}, "mark": {"type": "text", "fontSize": 13, "fontWeight": "bold", "align": "left"},
       "encoding": {"x": {"field": "x", "type": "quantitative", "axis": null}, "y": {"field": "y", "type": "quantitative", "axis": null}, "text": {"field": "t"}}},
      {"data": {"values": [{"x": -2.2, "y": -2.0, "y2": -8.46}]}, "mark": {"type": "rule", "color": "#888", "strokeWidth": 2},
       "encoding": {"x": {"field": "x", "type": "quantitative", "axis": null}, "y": {"field": "y", "type": "quantitative", "axis": null}, "y2": {"field": "y2"}}}
    ]
  }
]
}
